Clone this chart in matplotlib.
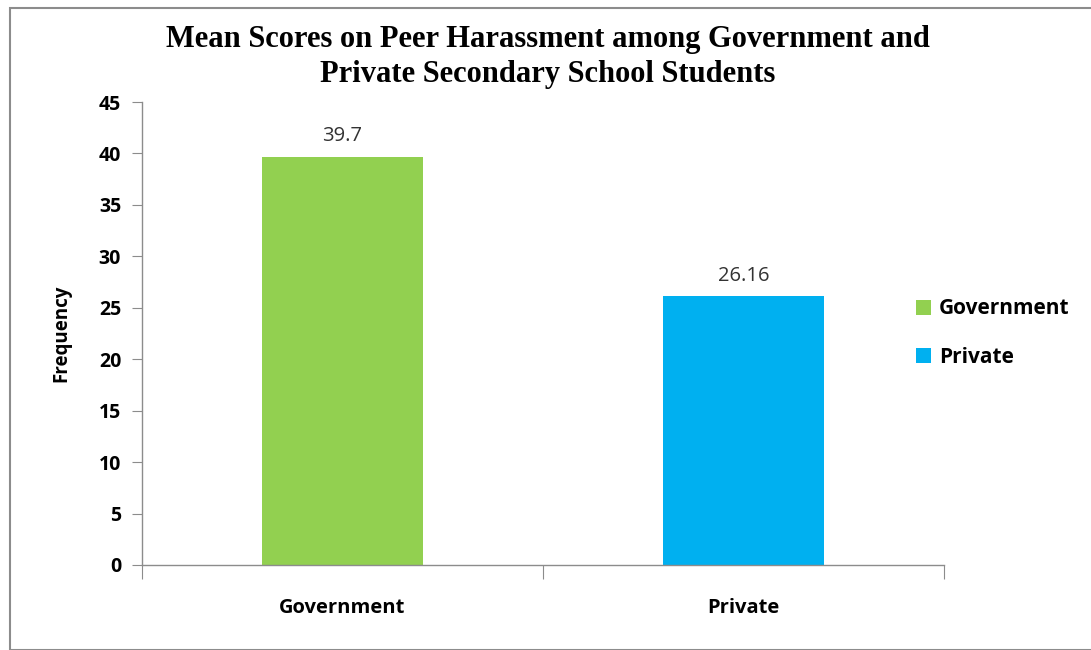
import matplotlib
matplotlib.use("Agg")
import matplotlib.pyplot as plt
from matplotlib.patches import Rectangle, Patch

categories = ["Government", "Private"]
means = [39.7, 26.16]
colors = ["#92d050", "#00b0f0"]
yticks = [0, 5, 10, 15, 20, 25, 30, 35, 40, 45]

W, H = 1091, 650
fig = plt.figure(figsize=(W / 100, H / 100), dpi=100)
fig.patch.set_facecolor("white")

# thin frame around the chart area
fig.patches.append(Rectangle((10 / W, 0), 1.2, 1 - 8 / H, transform=fig.transFigure,
                             fill=False, edgecolor="#8c8c8c", linewidth=1.5))

ax = fig.add_axes([142 / W, 1 - 565 / H, (944 - 142) / W, (565 - 102) / H])
x = range(len(categories))
bars = ax.bar(x, means, width=0.4, color=colors)

for xi, v in zip(x, means):
    ax.text(xi, v + 1.0, f"{v:g}", ha="center", va="bottom",
            fontsize=14.5, family="Open Sans", color="#333333")

ax.set_xlim(-0.5, 1.5)
ax.set_ylim(0, 45)
ax.set_yticks(yticks)
ax.set_yticklabels([str(t) for t in yticks], fontsize=14, fontweight="bold", family="Open Sans")
ax.set_xticks([-0.5, 0.5, 1.5])
ax.set_xticklabels([])
ax.set_xticks(list(x), minor=True)
ax.set_xticklabels(categories, minor=True, fontsize=14.5, fontweight="bold", family="Open Sans")
ax.tick_params(axis="x", which="major", length=10, color="#8c8c8c", direction="out")
ax.tick_params(axis="x", which="minor", length=0, pad=24)
ax.tick_params(axis="y", length=7, color="#8c8c8c", direction="out", pad=8)

for s in ["top", "right"]:
    ax.spines[s].set_visible(False)
for s in ["left", "bottom"]:
    ax.spines[s].set_color("#8c8c8c")
    ax.spines[s].set_linewidth(1.0)

ax.set_ylabel("Frequency", fontsize=13.5, fontweight="bold", family="Open Sans", labelpad=20)

fig.text(548 / W, 1 - 57 / H,
         "Mean Scores on Peer Harassment among Government and\nPrivate Secondary School Students",
         ha="center", va="center", fontsize=22, fontweight="bold",
         family="Liberation Serif", linespacing=1.3)

handles = [Patch(facecolor=c, edgecolor="none") for c in colors]
fig.legend(handles, categories, loc="center left", bbox_to_anchor=(897 / W, 1 - 333 / H),
           frameon=False, prop={"family": "Open Sans", "weight": "bold", "size": 15},
           handlelength=0.75, handleheight=0.75, handletextpad=0.35, labelspacing=1.3)

fig.savefig("out.png", dpi=100)
